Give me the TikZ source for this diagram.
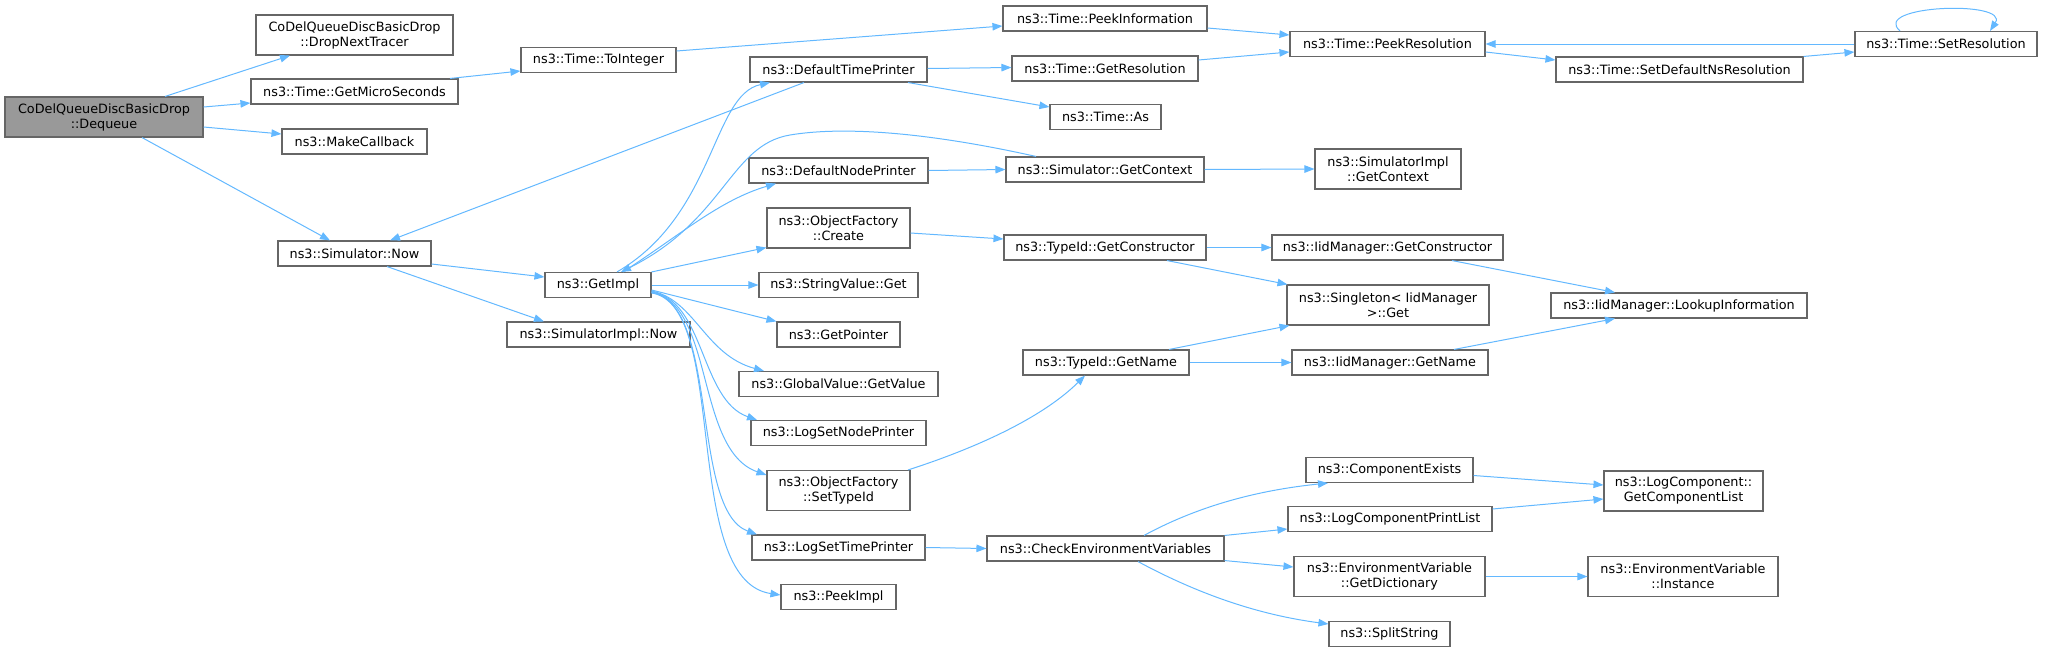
\documentclass[tikz,border=0pt]{standalone}
\usepackage{fontspec}
\setmainfont{DejaVu Sans}
\usetikzlibrary{arrows.meta}
\definecolor{edgeblue}{HTML}{63B8FF}
\definecolor{boxgray}{HTML}{666666}
\definecolor{deqgray}{HTML}{999999}
\begin{document}
\begin{tikzpicture}[x=1pt,y=-1pt,
  box/.style={draw=boxgray, line width=1.1pt, fill=white, inner sep=0pt, align=center,
    font=\fontsize{12.8pt}{15pt}\selectfont, minimum height=25pt},
  dbl/.style={minimum height=40pt},
  edge/.style={draw=edgeblue, line width=1pt, -{Triangle[length=10pt,width=7.5pt]}}]
\useasboundingbox (0,0) rectangle (2045,651);

% column 1
\node[box,dbl,fill=deqgray,minimum width=198pt] (deq) at (104,117) {CoDelQueueDiscBasicDrop\\::Dequeue};
% column 2
\node[box,dbl,minimum width=197pt] (dnt) at (354.5,35) {CoDelQueueDiscBasicDrop\\::DropNextTracer};
\node[box,minimum width=207pt] (gms) at (354.5,91.5) {ns3::Time::GetMicroSeconds};
\node[box,minimum width=145pt] (mcb) at (354.5,141.5) {ns3::MakeCallback};
\node[box,minimum width=153pt] (snow) at (354.5,253.5) {ns3::Simulator::Now};
% column 3
\node[box,minimum width=155pt] (toint) at (598.5,60) {ns3::Time::ToInteger};
\node[box,minimum width=106pt] (gimpl) at (598,285) {ns3::GetImpl};
\node[box,minimum width=183pt] (simplnow) at (598.5,334.5) {ns3::SimulatorImpl::Now};
% column 4
\node[box,minimum width=177pt] (dtp) at (838.5,69.5) {ns3::DefaultTimePrinter};
\node[box,minimum width=179pt] (dnp) at (838.5,170.5) {ns3::DefaultNodePrinter};
\node[box,dbl,minimum width=143pt] (ofc) at (838.5,228) {ns3::ObjectFactory\\::Create};
\node[box,minimum width=159pt] (svg) at (838.5,285) {ns3::StringValue::Get};
\node[box,minimum width=123pt] (gptr) at (838.5,334.5) {ns3::GetPointer};
\node[box,minimum width=199pt] (gvgv) at (838.5,384) {ns3::GlobalValue::GetValue};
\node[box,minimum width=175pt] (lsnp) at (838.5,433) {ns3::LogSetNodePrinter};
\node[box,dbl,minimum width=143pt] (ofst) at (838.5,490.5) {ns3::ObjectFactory\\::SetTypeId};
\node[box,minimum width=173pt] (lstp) at (838.5,547.5) {ns3::LogSetTimePrinter};
\node[box,minimum width=115pt] (pimpl) at (838.5,597) {ns3::PeekImpl};
% column 5
\node[box,minimum width=204pt] (peekinfo) at (1105,18.5) {ns3::Time::PeekInformation};
\node[box,minimum width=186pt] (getres) at (1105,68.5) {ns3::Time::GetResolution};
\node[box,minimum width=111pt] (as) at (1105.5,117) {ns3::Time::As};
\node[box,minimum width=198pt] (sgctx) at (1105,169.5) {ns3::Simulator::GetContext};
\node[box,minimum width=202pt] (tgc) at (1105,247.5) {ns3::TypeId::GetConstructor};
\node[box,minimum width=166pt] (tgn) at (1106,362.5) {ns3::TypeId::GetName};
\node[box,minimum width=237pt] (cev) at (1105.5,548.5) {ns3::CheckEnvironmentVariables};
% column 6
\node[box,minimum width=195pt] (pres) at (1387.5,44) {ns3::Time::PeekResolution};
\node[box,dbl,minimum width=146pt] (simplctx) at (1388,169) {ns3::SimulatorImpl\\::GetContext};
\node[box,minimum width=231pt] (igc) at (1387.5,247.5) {ns3::IidManager::GetConstructor};
\node[box,dbl,minimum width=202pt] (sing) at (1388,305) {ns3::Singleton< IidManager\\ >::Get};
\node[box,minimum width=196pt] (ign) at (1390,362.5) {ns3::IidManager::GetName};
\node[box,minimum width=167pt] (cex) at (1389.5,470) {ns3::ComponentExists};
\node[box,minimum width=204pt] (lcpl) at (1390,519) {ns3::LogComponentPrintList};
\node[box,dbl,minimum width=191pt] (gdict) at (1389.5,576.5) {ns3::EnvironmentVariable\\::GetDictionary};
\node[box,minimum width=121pt] (split) at (1389.5,634) {ns3::SplitString};
% column 7
\node[box,minimum width=247pt] (sdns) at (1679.5,69.5) {ns3::Time::SetDefaultNsResolution};
\node[box,minimum width=256pt] (lookup) at (1679,305.5) {ns3::IidManager::LookupInformation};
\node[box,dbl,minimum width=159pt] (gcl) at (1683.5,491) {ns3::LogComponent::\\GetComponentList};
\node[box,dbl,minimum width=190pt] (inst) at (1683,576.5) {ns3::EnvironmentVariable\\::Instance};
% column 8
\node[box,minimum width=182pt] (setres) at (1946,44) {ns3::Time::SetResolution};

% edges
\draw[edge] ([xshift=61pt]deq.north) -- ([xshift=-64.5pt]dnt.south);
\draw[edge] ([yshift=10pt]deq.east) -- ([yshift=-11.5pt]gms.west);
\draw[edge] ([yshift=-10pt]deq.east) -- ([yshift=7.5pt]mcb.west);
\draw[edge] ([xshift=38pt]deq.south) -- ([xshift=-24.5pt]snow.north);
\draw[edge] ([xshift=95.5pt]gms.north) -- ([yshift=-11pt]toint.west);
\draw[edge] ([yshift=9pt]toint.east) -- ([yshift=-7.5pt]peekinfo.west);
\draw[edge] ([yshift=-9.5pt]peekinfo.east) -- ([yshift=9pt]pres.west);
\draw[edge] ([yshift=8.5pt]getres.east) -- ([yshift=-8pt]pres.west);
\draw[edge] ([yshift=1pt]dtp.east) -- ([yshift=1pt]getres.west);
\draw[edge] ([xshift=69.5pt]dtp.south) -- ([yshift=10pt]as.west);
\draw[edge] ([xshift=-34.5pt]dtp.south) -- ([xshift=35.5pt]snow.north);
\draw[edge] ([yshift=-10.5pt]snow.east) -- ([yshift=8pt]gimpl.west);
\draw[edge] ([xshift=32.5pt]snow.south) -- ([xshift=-54.5pt]simplnow.north);
\draw[edge] ([xshift=19pt]gimpl.north) .. controls (715,215) and (712,95) .. ([xshift=-68.5pt]dtp.south);
\draw[edge] ([xshift=-69pt]sgctx.north) .. controls (940,135) and (850,125) .. (790,135)
   .. controls (730,145) and (725,220) .. ([xshift=23pt]gimpl.north);
\draw[edge] ([xshift=25pt]gimpl.north) .. controls (680,235) and (720,200) .. ([xshift=-62.5pt]dnp.south);
\draw[edge] (gimpl.north east) -- ([yshift=1pt]ofc.south west);
\draw[edge] (gimpl.east) -- (svg.west);
\draw[edge] ([yshift=-5pt]gimpl.east) -- (gptr.north west);
\draw[edge] ([yshift=-6pt]gimpl.east) .. controls (695,300) and (705,355) .. ([xshift=-74.5pt]gvgv.north);
\draw[edge] ([yshift=-7pt]gimpl.east) .. controls (705,300) and (700,400) .. ([xshift=-81.5pt]lsnp.north);
\draw[edge] ([yshift=-7pt]gimpl.east) .. controls (715,305) and (695,450) .. ([yshift=15.5pt]ofst.west);
\draw[edge] ([yshift=-7pt]gimpl.east) .. controls (720,305) and (690,510) .. ([xshift=-81.5pt]lstp.north);
\draw[edge] ([yshift=-8pt]gimpl.east) .. controls (730,305) and (680,580) .. ([yshift=2pt]pimpl.west);
\draw[edge] (dnp.east) -- (sgctx.west);
\draw[edge] (sgctx.east) -- (simplctx.west);
\draw[edge] ([yshift=-5pt]ofc.east) -- ([yshift=8.5pt]tgc.west);
\draw[edge] (tgc.east) -- (igc.west);
\draw[edge] ([xshift=62pt]tgc.south) -- ([xshift=1pt]sing.north west);
\draw[edge] ([xshift=64.5pt]igc.south) -- ([xshift=-64pt]lookup.north);
\draw[edge] ([xshift=63pt]tgn.north) -- ([xshift=3pt]sing.south west);
\draw[edge] (tgn.east) -- (ign.west);
\draw[edge] ([xshift=64pt]ign.north) -- ([xshift=-64pt]lookup.south);
\draw[edge] ([xshift=69.5pt]ofst.north) .. controls (970,450) and (1040,420) .. ([xshift=-21pt]tgn.south);
\draw[edge] (lstp.east) -- (cev.west);
\draw[edge] ([xshift=38.5pt]cev.north) .. controls (1200,505) and (1260,490) .. ([xshift=-61.5pt]cex.south);
\draw[edge] (cev.north east) -- ([yshift=-10pt]lcpl.west);
\draw[edge] ([yshift=1pt]cev.south east) -- ([yshift=9.5pt]gdict.west);
\draw[edge] ([xshift=32.5pt]cev.south) .. controls (1200,595) and (1260,615) .. ([yshift=10pt]split.west);
\draw[edge] ([yshift=-5.5pt]cex.east) -- ([yshift=6pt]gcl.west);
\draw[edge] ([yshift=10pt]lcpl.east) -- ([yshift=-8pt]gcl.west);
\draw[edge] (gdict.east) -- (inst.west);
\draw[edge] ([yshift=-8pt]pres.east) -- ([yshift=9.5pt]sdns.west);
\draw[edge] (sdns.north east) -- ([yshift=-8pt]setres.west);
\draw[edge] (setres.west) -- (pres.east);
\draw[edge] ([xshift=-46pt]setres.north) .. controls (1870,5) and (2010,0) .. ([xshift=44pt]setres.north);
\end{tikzpicture}
\end{document}
